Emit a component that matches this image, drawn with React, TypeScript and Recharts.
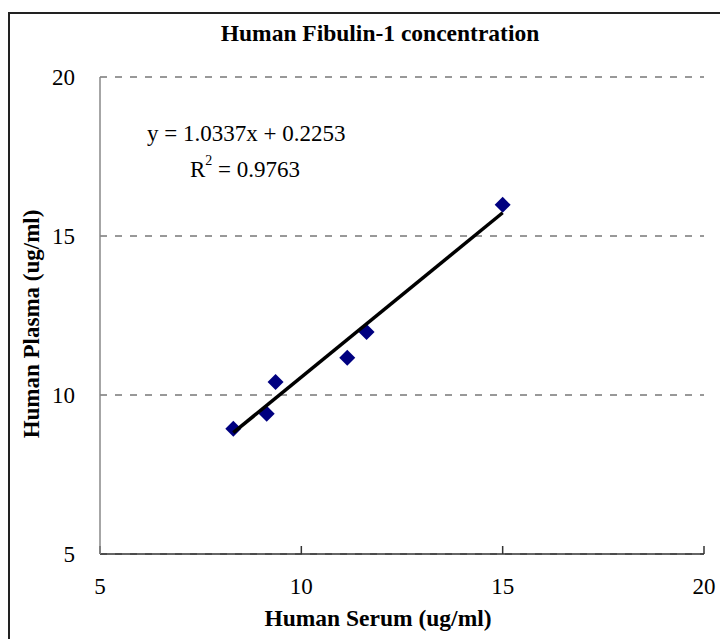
import React from 'react';
import {
  ScatterChart,
  Scatter,
  XAxis,
  YAxis,
  CartesianGrid,
} from 'recharts';

// Serum vs plasma concentrations (ug/ml)
const serum = [8.31, 9.14, 9.36, 11.14, 11.62, 15.0];
const plasma = [8.94, 9.41, 10.41, 11.17, 11.98, 15.98];

const xTicks = [5, 10, 15, 20];
const yTicks = [5, 10, 15, 20];

// linear trendline as reported on the chart
const slope = 1.0337;
const intercept = 0.2253;

const points = serum.map((x, i) => ({ x, y: plasma[i] }));
const xMin = Math.min(...serum);
const xMax = Math.max(...serum);
const trend = [
  { x: xMin, y: slope * xMin + intercept },
  { x: xMax, y: slope * xMax + intercept },
];

const FONT = '"Liberation Serif", "Times New Roman", serif';

const Diamond = (props: any) => {
  const { cx, cy } = props;
  const r = 8;
  return (
    <polygon
      points={`${cx},${cy - r} ${cx + r},${cy} ${cx},${cy + r} ${cx - r},${cy}`}
      fill="#000080"
    />
  );
};

const App: React.FC = () => {
  return (
    <div style={{ position: 'relative', width: 720, height: 639, overflow: 'hidden', background: '#fff', fontFamily: FONT }}>
      <style>{'body{margin:0}'}</style>
      {/* outer frame, runs off the right and bottom edge */}
      <div style={{ position: 'absolute', left: 8, top: 12, width: 800, height: 700, border: '2px solid #222' }} />

      <ScatterChart
        width={720}
        height={639}
        margin={{ top: 77, right: 16, bottom: 25, left: 0 }}
        style={{ position: 'absolute', left: 0, top: 0 }}
      >
        <CartesianGrid vertical={false} stroke="#333" strokeDasharray="7 8" />
        <XAxis
          type="number"
          dataKey="x"
          domain={[5, 20]}
          ticks={xTicks}
          height={60}
          tickSize={-8}
          tickMargin={32}
          axisLine={{ stroke: '#333', strokeWidth: 1.5 }}
          tickLine={{ stroke: '#333', strokeWidth: 1.5 }}
          tick={{ fill: '#000', fontSize: 23, fontFamily: FONT }}
        />
        <YAxis
          type="number"
          dataKey="y"
          domain={[5, 20]}
          ticks={yTicks}
          width={100}
          tickSize={0}
          tickMargin={25}
          tickLine={false}
          axisLine={{ stroke: '#888', strokeWidth: 1.5 }}
          tick={{ fill: '#000', fontSize: 23, fontFamily: FONT }}
        />
        <Scatter data={points} shape={Diamond} isAnimationActive={false} />
        <Scatter
          data={trend}
          line={{ stroke: '#000', strokeWidth: 3.5 }}
          shape={() => <g />}
          isAnimationActive={false}
        />
      </ScatterChart>

      {/* title */}
      <div style={{ position: 'absolute', left: 0, width: 760, top: 20, textAlign: 'center', fontWeight: 'bold', fontSize: 23.5 }}>
        Human Fibulin-1 concentration
      </div>

      {/* trendline equation */}
      <div style={{ position: 'absolute', left: 147, top: 121, fontSize: 23, whiteSpace: 'nowrap' }}>
        y = 1.0337x + 0.2253
      </div>
      <div style={{ position: 'absolute', left: 190, top: 157, fontSize: 23, whiteSpace: 'nowrap' }}>
        R<sup style={{ fontSize: 14, verticalAlign: 'top', position: 'relative', top: -4 }}>2</sup> = 0.9763
      </div>

      {/* axis titles */}
      <div style={{ position: 'absolute', left: 0, width: 756, top: 605, textAlign: 'center', fontWeight: 'bold', fontSize: 23.5 }}>
        Human Serum (ug/ml)
      </div>
      <div
        style={{
          position: 'absolute',
          left: 32,
          top: 324,
          transform: 'translate(-50%, -50%) rotate(-90deg)',
          fontWeight: 'bold',
          fontSize: 23,
          whiteSpace: 'nowrap',
        }}
      >
        Human Plasma (ug/ml)
      </div>
    </div>
  );
};

export default App;
